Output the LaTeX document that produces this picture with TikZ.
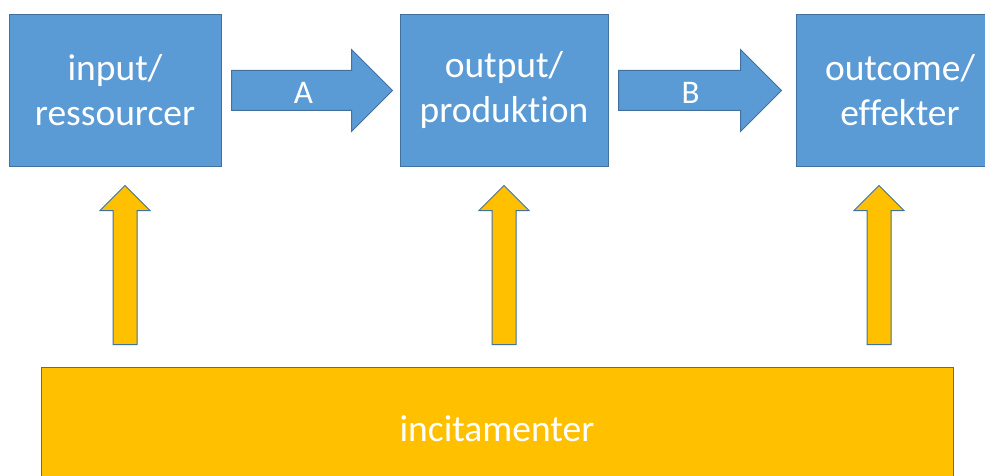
\documentclass[tikz,border=0pt]{standalone}
\usepackage{fontspec}
\setmainfont{Carlito}[Ligatures=NoCommon]
\usetikzlibrary{calc}
\definecolor{boxblue}{HTML}{5B9BD5}
\definecolor{incyellow}{HTML}{FFC000}
\definecolor{edgeblue}{HTML}{41719C}
\tikzset{
  stagebox/.style = {align=center, inner sep=0pt, rectangle, draw=edgeblue, fill=boxblue, text=white, line width=1pt, minimum width=208pt, minimum height=151pt, font=\fontsize{37.5}{45}\selectfont},
  drivebox/.style = {stagebox, fill=incyellow, minimum width=912pt, minimum height=123pt},
  flowarrow/.style = {draw=edgeblue, fill=boxblue, line width=1pt, line join=miter},
  pusharrow/.style = {flowarrow, fill=incyellow},
  arrowlabel/.style = {text=white, inner sep=0pt, font=\fontsize{33}{38}\selectfont}
}
\newcommand{\flowstep}[5]{%
  \path let \p1=($(#1.east)+(#3,0)$), \p2=($(#2.west)-(#4,0)$) in
    [flowarrow] (\x1,\y1+20pt) -- (\x2-41pt,\y1+20pt) -- (\x2-41pt,\y1+41pt) -- (\x2,\y1)
    -- (\x2-41pt,\y1-41pt) -- (\x2-41pt,\y1-20pt) -- (\x1,\y1-20pt) -- cycle
    node[arrowlabel] (label#5) at (\x1+72pt,\y1-2pt) {#5};}
\newcommand{\pushup}[2]{%
  \path let \p1=($(#1.south)+(#2,19)$), \p2=($(incentive.north)+(0,-22)$) in
    [pusharrow] (\x1-12pt,\y2) -- (\x1-12pt,\y1-25pt) -- (\x1-25pt,\y1-25pt) -- (\x1,\y1)
    -- (\x1+25pt,\y1-25pt) -- (\x1+12pt,\y1-25pt) -- (\x1+12pt,\y2) -- cycle;}

\begin{document}
\begin{tikzpicture}[x=1pt, y=-1pt]
  \useasboundingbox (0,0) rectangle (985,476);
  \clip (0,0) rectangle (985,476);
  \node [stagebox, minimum width=212pt] (inputbox) at (115,90.5) {input/\\ressourcer};
  \node [stagebox] (outputbox) at (504,90.5) {output/\\produktion};
  \node [stagebox] (outcomebox) at (900,90.5) {outcome/\\effekter};
  \node [drivebox] (incentive) at (497,428.5) {incitamenter};
  \flowstep{inputbox}{outputbox}{10}{7}{A}
  \flowstep{outputbox}{outcomebox}{10}{14}{B}
  \pushup{inputbox}{10}
  \pushup{outputbox}{0}
  \pushup{outcomebox}{-21}
\end{tikzpicture}
\end{document}
